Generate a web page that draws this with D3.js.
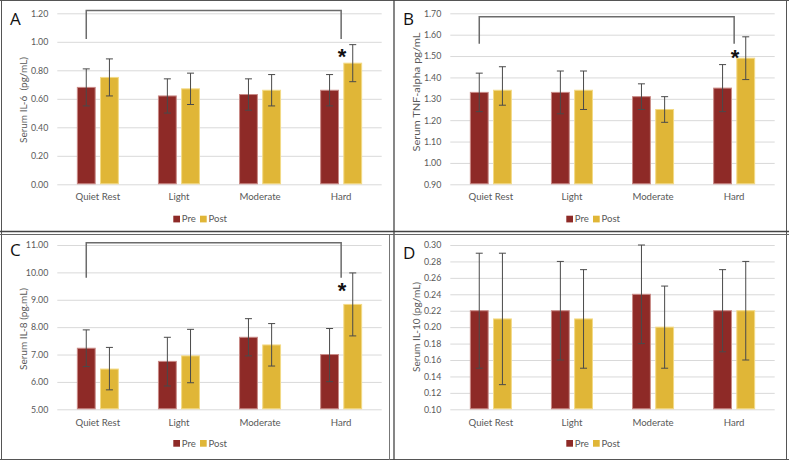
<!DOCTYPE html>
<html>
<head>
<meta charset="utf-8">
<script src="https://cdn.jsdelivr.net/npm/d3@7/dist/d3.min.js"></script>
<style>
  html, body { margin: 0; padding: 0; background: #fff; }
  svg { display: block; font-family: Lato, "Open Sans", sans-serif; }
</style>
</head>
<body>
<svg id="chart" width="789" height="461"></svg>
<script>
// ---------------- DATA ----------------
const categories = ["Quiet Rest", "Light", "Moderate", "Hard"];
const seriesNames = ["Pre", "Post"];

// Panel A: Serum IL-6
const il6Pre      = [0.68, 0.62, 0.63, 0.66];
const il6Post     = [0.75, 0.67, 0.66, 0.85];
const il6PreLow   = [0.55, 0.50, 0.52, 0.55];
const il6PreHigh  = [0.81, 0.74, 0.74, 0.77];
const il6PostLow  = [0.62, 0.56, 0.55, 0.72];
const il6PostHigh = [0.88, 0.78, 0.77, 0.98];
const il6Ticks    = [0.00, 0.20, 0.40, 0.60, 0.80, 1.00, 1.20];

// Panel B: Serum TNF-alpha
const tnfPre      = [1.33, 1.33, 1.31, 1.35];
const tnfPost     = [1.34, 1.34, 1.25, 1.49];
const tnfPreLow   = [1.24, 1.23, 1.25, 1.24];
const tnfPreHigh  = [1.42, 1.43, 1.37, 1.46];
const tnfPostLow  = [1.27, 1.25, 1.19, 1.39];
const tnfPostHigh = [1.45, 1.43, 1.31, 1.59];
const tnfTicks    = [0.90, 1.00, 1.10, 1.20, 1.30, 1.40, 1.50, 1.60, 1.70];

// Panel C: Serum IL-8
const il8Pre      = [7.23, 6.75, 7.63, 7.00];
const il8Post     = [6.47, 6.95, 7.35, 8.83];
const il8PreLow   = [6.56, 5.85, 6.95, 6.01];
const il8PreHigh  = [7.90, 7.63, 8.31, 7.95];
const il8PostLow  = [5.71, 5.97, 6.58, 7.68];
const il8PostHigh = [7.26, 7.92, 8.13, 9.98];
const il8Ticks    = [5, 6, 7, 8, 9, 10, 11];

// Panel D: Serum IL-10
const il10Pre      = [0.22, 0.22, 0.24, 0.22];
const il10Post     = [0.21, 0.21, 0.20, 0.22];
const il10PreLow   = [0.15, 0.16, 0.18, 0.17];
const il10PreHigh  = [0.29, 0.28, 0.30, 0.27];
const il10PostLow  = [0.13, 0.15, 0.15, 0.16];
const il10PostHigh = [0.29, 0.27, 0.25, 0.28];
const il10Ticks    = [0.10, 0.12, 0.14, 0.16, 0.18, 0.20, 0.22, 0.24, 0.26, 0.28, 0.30];

// Significance brackets: [bottom value, top value, asterisk value]
const il6Bracket = [1.02, 1.22, 0.93];
const tnfBracket = [1.558, 1.684, 1.513];
const il8Bracket = [9.80, 11.08, 9.50];

// ---------------- STYLE ----------------
const colors = { Pre: "#8E2A27", Post: "#E0B637" };
const strokes = { Pre: "#C98A86", Post: "#F3DA86" };

const panels = [
  { letter: "A", ox: 0, oy: 0, top: 13.3, bottom: 184.3, ylabel: "Serum IL-6  (pg/mL)", ylabelLen: 86, ylabelY: 100,
    pre: il6Pre, post: il6Post, preLow: il6PreLow, preHigh: il6PreHigh, postLow: il6PostLow, postHigh: il6PostHigh,
    ticks: il6Ticks, fmt: ".2f", bracket: il6Bracket, catY: 197, legY: 219, letterY: 25 },
  { letter: "B", ox: 393, oy: 0, top: 13.3, bottom: 184.3, ylabel: "Serum TNF-alpha pg/mL", ylabelLen: 119, ylabelY: 92,
    pre: tnfPre, post: tnfPost, preLow: tnfPreLow, preHigh: tnfPreHigh, postLow: tnfPostLow, postHigh: tnfPostHigh,
    ticks: tnfTicks, fmt: ".2f", bracket: tnfBracket, catY: 197, legY: 219, letterY: 25 },
  { letter: "C", ox: 0, oy: 230, top: 15, bottom: 179.3, ylabel: "Serum IL-8 (pg.mL)", ylabelLen: 82, ylabelY: 99,
    pre: il8Pre, post: il8Post, preLow: il8PreLow, preHigh: il8PreHigh, postLow: il8PostLow, postHigh: il8PostHigh,
    ticks: il8Ticks, fmt: ".2f", bracket: il8Bracket, catY: 192.7, legY: 213.3, letterY: 26 },
  { letter: "D", ox: 393, oy: 230, top: 15, bottom: 179.3, ylabel: "Serum IL-10 (pg/mL)", ylabelLen: 90, ylabelY: 97,
    pre: il10Pre, post: il10Post, preLow: il10PreLow, preHigh: il10PreHigh, postLow: il10PostLow, postHigh: il10PostHigh,
    ticks: il10Ticks, fmt: ".2f", bracket: null, catY: 192.7, legY: 213.3, letterY: 29 }
];

const svg = d3.select("#chart");

// ---------------- FRAME ----------------
const frame = svg.append("g").attr("fill", "none");
frame.append("line").attr("x1", 0).attr("x2", 789).attr("y1", 0.5).attr("y2", 0.5).attr("stroke", "#555");
frame.append("line").attr("x1", 1.5).attr("x2", 1.5).attr("y1", 0).attr("y2", 460).attr("stroke", "#555");
frame.append("line").attr("x1", 786.5).attr("x2", 786.5).attr("y1", 0).attr("y2", 460).attr("stroke", "#555");
frame.append("line").attr("x1", 0).attr("x2", 789).attr("y1", 459.5).attr("y2", 459.5).attr("stroke", "#555");
frame.append("line").attr("x1", 394).attr("x2", 394).attr("y1", 0).attr("y2", 460).attr("stroke", "#444").attr("stroke-width", 1.3);
frame.append("line").attr("x1", 389.5).attr("x2", 389.5).attr("y1", 234).attr("y2", 460).attr("stroke", "#777");
frame.append("line").attr("x1", 0).attr("x2", 789).attr("y1", 231.5).attr("y2", 231.5).attr("stroke", "#444").attr("stroke-width", 1.5);
frame.append("line").attr("x1", 0).attr("x2", 789).attr("y1", 234.5).attr("y2", 234.5).attr("stroke", "#666");

// ---------------- PANELS ----------------
panels.forEach(p => {
  const g = svg.append("g").attr("transform", `translate(${p.ox},${p.oy})`);
  const x0 = d3.scaleBand().domain(categories).range([57.3, 381.7]).paddingInner(0.482).paddingOuter(0.241);
  const x1 = d3.scaleBand().domain(seriesNames).range([0, x0.bandwidth()]).paddingInner(0.187);
  const y = d3.scaleLinear().domain([p.ticks[0], p.ticks[p.ticks.length - 1]]).range([p.bottom, p.top]);

  // gridlines + tick labels
  const yAxis = d3.axisLeft(y).tickValues(p.ticks).tickFormat(d3.format(p.fmt)).tickSize(-(381.7 - 57.3)).tickPadding(9);
  const ax = g.append("g").attr("transform", "translate(57.3,0)").call(yAxis);
  ax.select(".domain").remove();
  ax.selectAll(".tick line").attr("stroke", "#D9D9D9").attr("stroke-width", 1);
  ax.selectAll(".tick text").attr("fill", "#595959").attr("font-size", 8.8).attr("font-family", "Lato, sans-serif");

  // bars
  const rows = categories.map((c, i) => ({
    cat: c,
    vals: [
      { s: "Pre", v: p.pre[i], lo: p.preLow[i], hi: p.preHigh[i] },
      { s: "Post", v: p.post[i], lo: p.postLow[i], hi: p.postHigh[i] }
    ]
  }));
  const grp = g.selectAll(".grp").data(rows).join("g").attr("transform", d => `translate(${x0(d.cat)},0)`);
  grp.selectAll("rect").data(d => d.vals).join("rect")
    .attr("x", d => x1(d.s) + 0.5)
    .attr("width", x1.bandwidth() - 1)
    .attr("y", d => y(d.v))
    .attr("height", d => y(p.ticks[0]) - y(d.v) - 0.5)
    .attr("fill", d => colors[d.s])
    .attr("stroke", d => strokes[d.s])
    .attr("stroke-width", 1);

  // error bars
  const eb = grp.selectAll(".eb").data(d => d.vals).join("g").attr("stroke", "#4a4a4a").attr("stroke-width", 1);
  const cx = d => x1(d.s) + x1.bandwidth() / 2;
  eb.append("line").attr("x1", cx).attr("x2", cx).attr("y1", d => y(d.lo)).attr("y2", d => y(d.hi));
  eb.append("line").attr("x1", d => cx(d) - 3.5).attr("x2", d => cx(d) + 3.5).attr("y1", d => y(d.hi)).attr("y2", d => y(d.hi));
  eb.append("line").attr("x1", d => cx(d) - 3.5).attr("x2", d => cx(d) + 3.5).attr("y1", d => y(d.lo)).attr("y2", d => y(d.lo));

  // category labels
  g.selectAll(".cat").data(categories).join("text")
    .attr("x", c => x0(c) + x0.bandwidth() / 2)
    .attr("y", p.catY)
    .attr("dy", "0.35em")
    .attr("text-anchor", "middle")
    .attr("fill", "#595959")
    .attr("font-size", 9.6)
    .text(c => c);

  // y-axis title
  g.append("text")
    .attr("transform", `translate(23,${p.ylabelY}) rotate(-90)`)
    .attr("text-anchor", "middle")
    .attr("dy", "0.35em")
    .attr("fill", "#595959")
    .attr("font-size", 10)
    .attr("textLength", p.ylabelLen)
    .attr("lengthAdjust", "spacingAndGlyphs")
    .style("white-space", "pre")
    .text(p.ylabel);

  // panel letter
  g.append("text").attr("x", 10).attr("y", p.letterY).attr("font-size", 17).attr("fill", "#111")
    .attr("font-family", "'Open Sans', Lato, sans-serif").text(p.letter);

  // legend
  const leg = g.append("g").attr("transform", `translate(0,${p.legY})`);
  const legX = { Pre: 173.3, Post: 200 };
  seriesNames.forEach(s => {
    leg.append("rect").attr("x", legX[s]).attr("y", -3.3).attr("width", 6.7).attr("height", 6.7).attr("fill", colors[s]);
    leg.append("text").attr("x", legX[s] + 8.5).attr("y", 0).attr("dy", "0.35em")
      .attr("fill", "#595959").attr("font-size", 9.6).text(s);
  });

  // significance bracket
  if (p.bracket) {
    const xl = x0("Quiet Rest") + x1("Pre") + x1.bandwidth() / 2;
    const xr = x0("Hard") + x0.bandwidth() / 2;
    const [bLo, bHi, star] = p.bracket;
    g.append("path")
      .attr("d", `M${xl},${y(bLo)}V${y(bHi)}H${xr}V${y(bLo)}`)
      .attr("fill", "none").attr("stroke", "#6b6b6b").attr("stroke-width", 1.5);
    g.append("text").attr("x", xr + 1).attr("y", y(star)).attr("dy", "0.55em")
      .attr("text-anchor", "middle").attr("font-size", 22).attr("font-weight", "bold")
      .attr("font-family", "'Liberation Sans', Arial, sans-serif")
      .attr("fill", "#111").text("*");
  }
});
</script>
</body>
</html>
